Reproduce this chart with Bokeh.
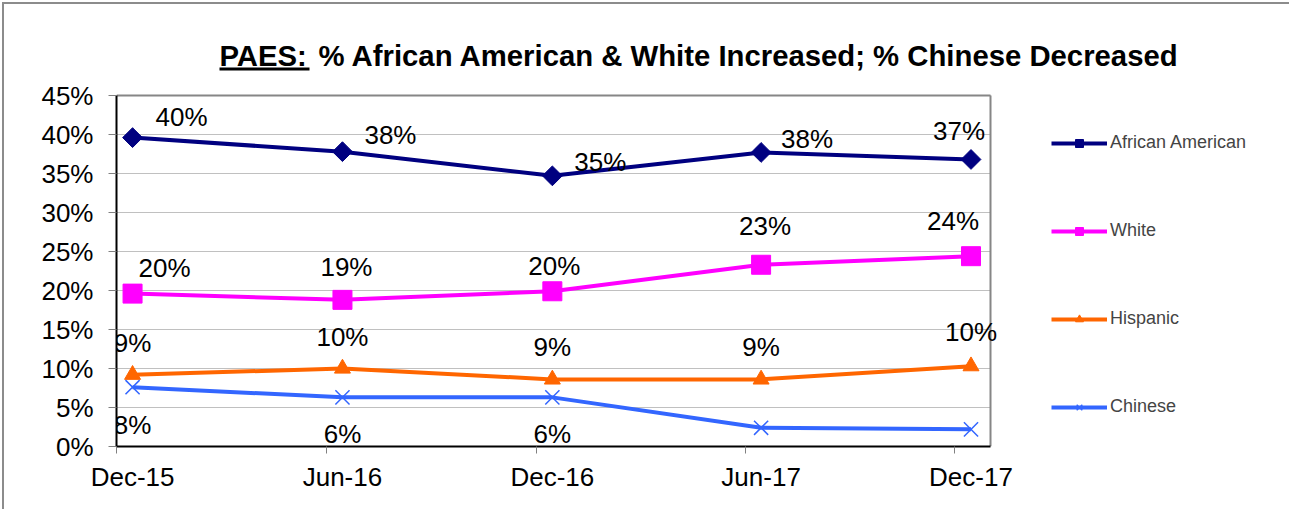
import pandas as pd
from bokeh.plotting import figure
from bokeh.models import (FixedTicker, PrintfTickFormatter, DatetimeTickFormatter, Legend,
                          LegendItem, ColumnDataSource, Range1d)
from bokeh.embed import file_html
from bokeh.resources import INLINE
from bokeh.core.properties import value

# ---------------- data ----------------
periods = ["2015-12-15", "2016-06-15", "2016-12-15", "2017-06-15", "2017-12-15"]
tick_mark_dates = ["2015-12-01", "2016-06-01", "2016-12-01", "2017-06-01", "2017-12-01"]
african_american = [39.6, 37.8, 34.7, 37.7, 36.8]
white = [19.6, 18.8, 19.9, 23.3, 24.4]
hispanic = [9.2, 10.0, 8.6, 8.6, 10.3]
chinese = [7.6, 6.3, 6.3, 2.4, 2.2]
y_ticks = [0, 5, 10, 15, 20, 25, 30, 35, 40, 45]
series_names = ["African American", "White", "Hispanic", "Chinese"]
title_lead = "PAES:"
title_rest = "% African American & White Increased; % Chinese Decreased"

# ---------------- layout / style ----------------
FONT = "Liberation Sans"
OFF = 4                      # canvas offset inside page (border + margin)
W, H = 1291 - OFF, 511 - OFF
# plot-area box in page pixels
PA_L, PA_R, PA_T, PA_B = 116, 990, 95, 446
ML, MB = PA_L - OFF, H - (PA_B - OFF)


def ms(s):
    return pd.Timestamp(s).value / 1e6


X0, X1 = ms("2015-12-01"), ms("2018-01-01")
Y0, Y1 = 0, 45
MS_PER_PX = (X1 - X0) / (PA_R - PA_L)
PX_PER_Y = (PA_B - PA_T) / (Y1 - Y0)
X_END = X0 + (W - ML) * MS_PER_PX
Y_END = (PA_B - OFF) / PX_PER_Y


def px_x(px):
    return X0 + (px - PA_L) * MS_PER_PX


def px_y(py):
    return (PA_B - py) / PX_PER_Y


xs = [ms(d) for d in periods]

p = figure(width=W, height=H, x_axis_type="datetime",
           x_range=Range1d(X0, X_END), y_range=Range1d(Y0, Y_END),
           output_backend="svg", toolbar_location=None,
           min_border_left=ML, min_border_right=0, min_border_top=0, min_border_bottom=MB)
p.styles = {"border-left": "2px solid #8c8c8c", "border-top": "2px solid #8c8c8c",
            "margin-left": "2px", "margin-top": "2px"}
p.title.visible = False
p.background_fill_color = "white"
p.border_fill_color = "white"
p.outline_line_color = None
p.xgrid.visible = False
p.ygrid.visible = False

# gridlines and plot-area border (drawn within the data extent only)
p.segment(x0=[X0] * len(y_ticks), x1=[X1] * len(y_ticks), y0=y_ticks, y1=y_ticks,
          line_color="#c0c0c0", line_width=1)
p.segment(x0=[X0, X1], x1=[X1, X1], y0=[Y1, Y0], y1=[Y1, Y1],
          line_color="#868686", line_width=2)

# y axis
p.yaxis.bounds = (Y0, Y1)
p.yaxis.ticker = FixedTicker(ticks=y_ticks)
p.yaxis.formatter = PrintfTickFormatter(format="%d%%")
p.yaxis.axis_line_color = "black"
p.yaxis.axis_line_width = 2
p.yaxis.major_tick_line_color = "#808080"
p.yaxis.major_tick_out = 8
p.yaxis.major_tick_in = 0
p.yaxis.minor_tick_line_color = None
p.yaxis.major_label_standoff = 15
p.yaxis.major_label_text_font = FONT
p.yaxis.major_label_text_font_size = "26px"
p.yaxis.major_label_text_color = "black"

# x axis
p.xaxis.bounds = (X0, X1)
p.xaxis.ticker = FixedTicker(ticks=xs, minor_ticks=[ms(d) for d in tick_mark_dates])
fmt = "%b-%y"
p.xaxis.formatter = DatetimeTickFormatter(microseconds=fmt, milliseconds=fmt, seconds=fmt,
                                          minsec=fmt, minutes=fmt, hourmin=fmt, hours=fmt,
                                          days=fmt, months=fmt, years=fmt)
p.xaxis.axis_line_color = "black"
p.xaxis.axis_line_width = 2
p.xaxis.major_tick_line_color = None
p.xaxis.major_tick_out = 7
p.xaxis.major_tick_in = 0
p.xaxis.minor_tick_line_color = "#808080"
p.xaxis.minor_tick_out = 7
p.xaxis.minor_tick_in = 0
p.xaxis.major_label_standoff = 8
p.xaxis.major_label_text_font = FONT
p.xaxis.major_label_text_font_size = "26px"
p.xaxis.major_label_text_color = "black"

series = [
    dict(vals=african_american, color="#000080", marker="square", size=14, angle=0.785398,
         lw=4, offs=[(49, -21), (48, -17), (48, -14), (46, -13), (-12, -28)]),
    dict(vals=white, color="#FF00FF", marker="square", size=19, angle=0,
         lw=4, offs=[(32, -26), (4, -33), (2, -25), (4, -39), (-18, -35)]),
    dict(vals=hispanic, color="#FF6600", marker="triangle", size=16, angle=0,
         lw=4, offs=[(0, -32), (0, -32), (0, -32), (0, -32), (0, -34)]),
    dict(vals=chinese, color="#3366FF", marker="x", size=20, angle=0,
         lw=4, offs=[(0, 38), (0, 37), (0, 37), (0, 37), (0, 35)]),
]

items = []
for name, s in zip(series_names, series):
    src = ColumnDataSource(dict(x=xs, y=s["vals"]))
    lr = p.line("x", "y", source=src, line_color=s["color"], line_width=s["lw"])
    if s["marker"] == "x":
        sr = p.scatter("x", "y", source=src, marker="x", size=s["size"],
                       line_color=s["color"], line_width=1.5)
    else:
        sr = p.scatter("x", "y", source=src, marker=s["marker"], size=s["size"],
                       angle=s["angle"], fill_color=s["color"], line_color=s["color"])
    items.append(LegendItem(label=name, renderers=[lr, sr]))
    lab = ColumnDataSource(dict(
        x=[x + dx * MS_PER_PX for x, (dx, dy) in zip(xs, s["offs"])],
        y=[v - dy / PX_PER_Y for v, (dx, dy) in zip(s["vals"], s["offs"])],
        t=["%d%%" % round(v) for v in s["vals"]],
    ))
    p.text("x", "y", text="t", source=lab, text_font=value(FONT), text_font_size="26px",
           text_color="black", text_align="center", text_baseline="middle")

legend = Legend(items=items, location=(1051 - PA_L, PA_B - 417), orientation="vertical",
                glyph_width=56, glyph_height=20, label_height=20, spacing=67,
                label_standoff=3, padding=10, margin=0,
                label_text_font=FONT, label_text_font_size="18px",
                border_line_color=None, background_fill_alpha=0)
p.add_layout(legend, "center")

# title (bold; lead word underlined)
p.text(x=[px_x(219)], y=[px_y(55)], text=[title_lead], text_font=value(FONT),
       text_font_size="29.3px", text_font_style="bold", text_color="black",
       text_align="left", text_baseline="middle")
p.text(x=[px_x(318)], y=[px_y(55)], text=[title_rest], text_font=value(FONT),
       text_font_size="29.3px", text_font_style="bold", text_color="black",
       text_align="left", text_baseline="middle")
p.segment(x0=[px_x(219)], x1=[px_x(309)], y0=[px_y(68.5)], y1=[px_y(68.5)],
          line_color="black", line_width=3)

open("out.html", "w").write(file_html(p, INLINE))
